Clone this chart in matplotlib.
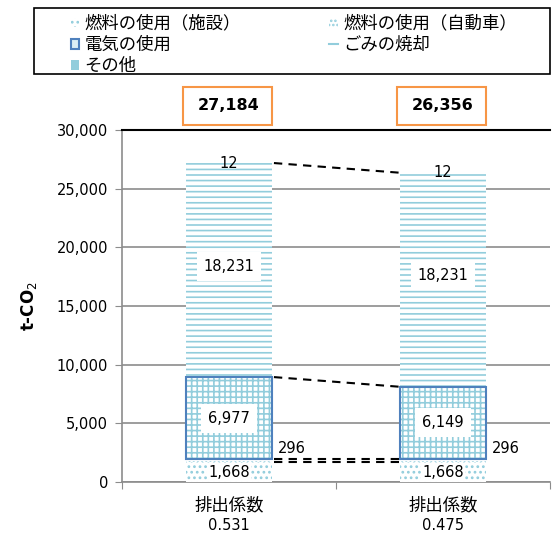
import matplotlib
matplotlib.use('Agg')
import matplotlib.pyplot as plt
from matplotlib.patches import Patch, Rectangle
from matplotlib.lines import Line2D

# digits in DejaVu, Japanese glyphs fall back to Noto CJK
plt.rcParams['font.family'] = ['DejaVu Sans', 'Noto Sans CJK JP']
plt.rcParams['hatch.linewidth'] = 1.2

# emissions per source (t-CO2), one value per emission-factor case
factor_names = ['排出係数', '排出係数']
factors = ['0.531', '0.475']
fuel_facility = [1668, 1668]
fuel_vehicle = [296, 296]
electricity = [6977, 6149]
waste = [18231, 18231]
other = [12, 12]
series_names = ['燃料の使用（施設）', '燃料の使用（自動車）', '電気の使用', 'ごみの焼却', 'その他']

LIGHT = '#92CDDC'
BLUE = '#4F81BD'
ORANGE = '#F79646'
GRAY = '#8C8C8C'

fig = plt.figure(figsize=(5.53, 5.35), dpi=100)
ax = fig.add_axes([122 / 553, 1 - 482 / 535, 428 / 553, 352 / 535])

x = [0, 1]
w = 0.4
bottom = [0, 0]
styles = [
    (fuel_facility, dict(facecolor='white', edgecolor=LIGHT, hatch='...', linewidth=0)),
    (fuel_vehicle, dict(facecolor='white', edgecolor=LIGHT, hatch='....', linewidth=0)),
    (electricity, dict(facecolor='white', edgecolor=LIGHT, hatch='+++', linewidth=0)),
    (waste, dict(facecolor='white', edgecolor=LIGHT, hatch='---', linewidth=0)),
    (other, dict(facecolor=LIGHT, edgecolor=LIGHT, linewidth=0)),
]
tops = []
for vals, kw in styles:
    ax.bar(x, vals, w, bottom=bottom, zorder=3, **kw)
    # blue outline around the electricity block
    if vals is electricity:
        ax.bar(x, vals, w, bottom=bottom, facecolor='none', edgecolor=BLUE,
               linewidth=1.5, zorder=4)
    bottom = [b + v for b, v in zip(bottom, vals)]
    tops.append(list(bottom))

totals = tops[-1]

# dashed connectors between the two bars
for level in [tops[0], tops[1], tops[2], tops[4]]:
    ax.plot([x[0] + w / 2 + 0.01, x[1] - w / 2], level, color='black',
            linestyle=(0, (4, 3)), linewidth=1.5, zorder=5)

# value labels
for i in range(2):
    ax.text(x[i], fuel_facility[i] / 2, f'{fuel_facility[i]:,}', ha='center', va='center',
            fontsize=10.5, zorder=6,
            bbox=dict(facecolor='white', edgecolor='none', pad=1))
    ax.text(x[i] + w / 2 + 0.03, tops[1][i] + 850, f'{fuel_vehicle[i]:,}', ha='left',
            va='center', fontsize=10.5, zorder=6)
    mid = tops[1][i] + electricity[i] / 2
    ax.text(x[i], mid, f'{electricity[i]:,}', ha='center', va='center', fontsize=10.5,
            zorder=6, bbox=dict(facecolor='white', edgecolor='none', pad=5))
    mid = tops[2][i] + waste[i] / 2
    ax.text(x[i], mid + 350, f'{waste[i]:,}', ha='center', va='center', fontsize=10.5,
            zorder=6, bbox=dict(facecolor='white', edgecolor='none', pad=5))
    ax.text(x[i], totals[i], f'{other[i]:,}', ha='center', va='center', fontsize=10.5,
            zorder=6)
    # total in orange box above the plot
    ax.add_patch(Rectangle((x[i] - w / 2 - 0.015, 30450), w + 0.015, 3200,
                           facecolor='white', edgecolor=ORANGE, linewidth=1.5,
                           clip_on=False, zorder=6))
    ax.text(x[i], 32050, f'{totals[i]:,}', ha='center', va='center', fontsize=11.5,
            fontweight='bold', zorder=7)
    # category label under the axis
    ax.text(x[i], -0.065, factor_names[i], transform=ax.get_xaxis_transform(),
            ha='center', va='center', fontsize=12.5)
    ax.text(x[i], -0.125, factors[i], transform=ax.get_xaxis_transform(),
            ha='center', va='center', fontsize=10.5)

ax.set_xlim(-0.5, 1.5)
ax.set_ylim(0, 30000)
ax.set_yticks(range(0, 30001, 5000))
ax.set_yticklabels([f'{v:,}' for v in range(0, 30001, 5000)], fontsize=10.5)
ax.set_xticks([-0.5, 0.5, 1.5])
ax.set_xticklabels([])
ax.tick_params(axis='x', length=5, color=GRAY)
ax.tick_params(axis='y', length=5, color=GRAY, pad=5)

ax.grid(axis='y', color=GRAY, linewidth=1.2, zorder=0)
ax.set_axisbelow(True)
for side in ['left', 'bottom']:
    ax.spines[side].set_color(GRAY)
    ax.spines[side].set_linewidth(1.2)
ax.spines['right'].set_visible(False)
ax.spines['top'].set_color('black')
ax.spines['top'].set_linewidth(1.5)

ax.set_ylabel('t-CO$_2$', fontsize=12, fontweight='bold', labelpad=13)

# legend: two columns, filled row by row
handles = {
    series_names[0]: Patch(facecolor='white', edgecolor=LIGHT, hatch='...', linewidth=0),
    series_names[1]: Patch(facecolor='white', edgecolor=LIGHT, hatch='....', linewidth=0),
    series_names[2]: Patch(facecolor='#DCEFF5', edgecolor=BLUE, linewidth=1.5),
    series_names[3]: Line2D([], [], color=LIGHT, linewidth=1.5),
    series_names[4]: Patch(facecolor=LIGHT, edgecolor=LIGHT, linewidth=0),
}
order = [series_names[0], series_names[2], series_names[4], series_names[1], series_names[3]]
fig.legend([handles[n] for n in order], order, loc='upper left',
           bbox_to_anchor=(62 / 553, 1 - 6 / 535), frameon=False, ncol=2,
           handlelength=0.5, handleheight=0.5, handletextpad=0.3,
           columnspacing=5.1, labelspacing=0.18, borderpad=0, fontsize=12.5)
fig.patches.append(Rectangle((34 / 553, 1 - 74 / 535), 516 / 553, 66 / 535,
                             transform=fig.transFigure, facecolor='none',
                             edgecolor='black', linewidth=1.2))

fig.savefig('out.png', dpi=100)
